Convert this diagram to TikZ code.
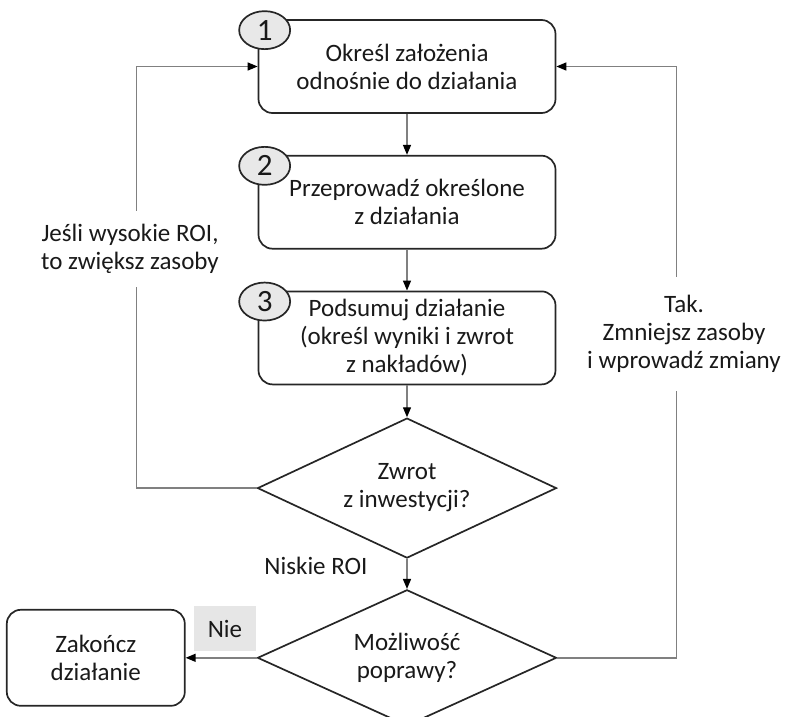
\documentclass[tikz,border=0pt]{standalone}
\usepackage{fontspec}
\setmainfont{Carlito}
\usetikzlibrary{shapes.geometric,arrows.meta,positioning}
\definecolor{linegray}{HTML}{808080}
\definecolor{boxline}{HTML}{262626}
\definecolor{circfill}{HTML}{E8E8E8}
\definecolor{labelfill}{HTML}{E6E6E6}

\begin{document}
\begin{tikzpicture}[
    x=1pt, y=-1pt,
    font=\fontsize{25}{28}\selectfont,
    text=black!90,
    node distance = 41pt and 1cm,
    % --- node styles ---
    stepbox/.style = {rectangle, draw=boxline, line width=1.7pt,
                      rounded corners=14pt, align=center,
                      minimum width=297pt, minimum height=93pt,
                      inner sep=2pt},
    endbox/.style = {stepbox, minimum width=178pt, minimum height=96pt},
    decision/.style = {diamond, draw=boxline, line width=1.7pt,
                       align=center, shape aspect=2,
                       minimum width=299pt, minimum height=140pt,
                       inner sep=2pt},
    numcirc/.style = {ellipse, draw=boxline, line width=1.7pt,
                      fill=circfill, minimum width=51pt,
                      minimum height=38pt, inner sep=0pt,
                      font=\fontsize{31}{31}\selectfont},
    arrow/.style = {-{Triangle[length=10pt,width=8pt,color=black]},
                    draw=linegray, line width=1.4pt},
    sidelbl/.style = {fill=white, align=center, inner xsep=2pt},
]
\useasboundingbox (0,0) rectangle (785,717);

%============ STEPS ============
\node (s1) [stepbox] at (407,66.5)
  {Określ założenia\\odnośnie do działania};

\node (s2) [stepbox, below=of s1]
  {Przeprowadź określone\\z działania};

\node (s3) [stepbox, below=of s2]
  {Podsumuj działanie\\(określ wyniki i zwrot\\z nakładów)};

% step numbers
\foreach \s/\n in {s1/1, s2/2, s3/3}
  \node (n\n) [numcirc] at ([shift={(7,11)}]\s.north west) {\n};

%============ DECISIONS ============
\node (d1) [decision, below=32pt of s3]
  {Zwrot\\z inwestycji?};

\node (d2) [decision, minimum height=136pt, below=30pt of d1]
  {Możliwość\\poprawy?};

\node (end) [endbox, left=71pt of d2]
  {Zakończ\\działanie};

%============ MAIN-FLOW ARROWS ============
\foreach \a/\b in {s1/s2, s2/s3, s3/d1, d1/d2, d2/end}
  \draw[arrow] (\a) -- (\b);

\node (lowroi) at (316,566) {Niskie ROI};
\node (nie) [fill=labelfill, minimum width=62pt, minimum height=45pt]
  at (225,628.5) {Nie};

%============ FEEDBACK LOOPS ============
\draw[arrow] (d1.west) -- ++(-120,0) |- (s1.west);
\node (hiroi) [sidelbl, inner ysep=13pt] at (130,249)
  {Jeśli wysokie ROI,\\to zwiększ zasoby};

\draw[arrow] (d2.east) -- ++(119,0) |- (s1.east);
\node (lessres) [sidelbl, inner ysep=18pt] at (684,334)
  {Tak.\\Zmniejsz zasoby\\i wprowadź zmiany};

\end{tikzpicture}
\end{document}
